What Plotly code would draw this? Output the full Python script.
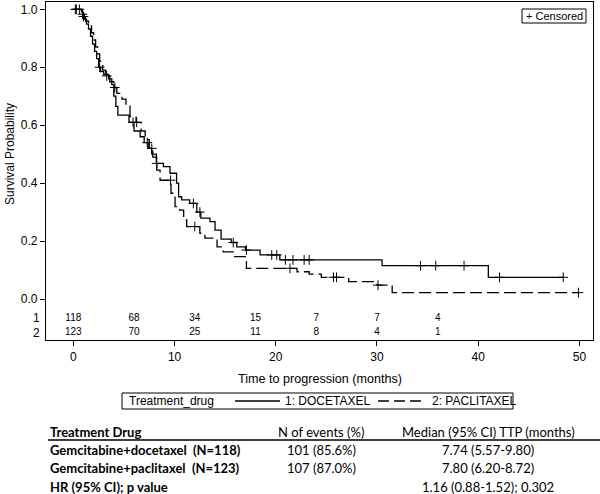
import numpy as np
import plotly.graph_objects as go

# ---------------- data ----------------
# Docetaxel (solid) Kaplan-Meier step function: event times and survival after each step
doc_t = [0, 0.9, 1.1, 1.3, 1.5, 1.7, 1.9, 2.1, 2.3, 2.5, 2.7, 3.0, 3.5, 3.8, 4.0, 4.2, 4.4,
         5.5, 6.0, 6.6, 7.0, 7.4, 7.75, 8.2, 8.9, 9.55, 10.2, 10.4, 10.7, 11.5, 12.2, 12.6,
         13.5, 14.0, 14.6, 15.6, 16.15, 17.0, 18.45, 20.4, 30.5, 41.0]
doc_s = [1.0, 0.983, 0.966, 0.949, 0.932, 0.907, 0.88, 0.855, 0.83, 0.80, 0.785, 0.775, 0.76,
         0.74, 0.70, 0.665, 0.635, 0.61, 0.58, 0.56, 0.54, 0.52, 0.50, 0.468, 0.457, 0.434,
         0.40, 0.353, 0.342, 0.33, 0.30, 0.279, 0.267, 0.238, 0.207, 0.195, 0.18, 0.169,
         0.152, 0.135, 0.115, 0.075]
doc_cens = [0.3, 0.9, 2.6, 5.9, 7.3, 8.24, 11.86, 12.5, 15.8, 17.1, 19.6, 20.1, 20.95, 21.7,
            22.8, 23.3, 34.3, 35.8, 38.6, 42.1, 48.4]
doc_end = 48.4

# Paclitaxel (dashed)
pac_t = [0, 0.8, 1.0, 1.2, 1.5, 1.8, 2.0, 2.2, 2.4, 2.6, 2.9, 3.2, 3.6, 4.0, 4.3, 4.8, 5.2,
         5.6, 6.2, 6.7, 7.1, 7.5, 7.85, 8.24, 8.57, 9.65, 10.05, 10.5, 10.9, 11.2, 12.5, 13.0,
         14.2, 14.8, 15.8, 17.1, 22.1, 23.3, 24.5, 27.2, 30.0, 31.5]
pac_s = [1.0, 0.992, 0.975, 0.959, 0.943, 0.919, 0.894, 0.87, 0.846, 0.82, 0.79, 0.77, 0.75,
         0.73, 0.71, 0.69, 0.67, 0.63, 0.61, 0.58, 0.55, 0.52, 0.49, 0.445, 0.41, 0.365,
         0.319, 0.307, 0.273, 0.25, 0.227, 0.21, 0.18, 0.163, 0.146, 0.106, 0.094, 0.086,
         0.075, 0.06, 0.048, 0.022]
pac_cens = [0.2, 0.6, 1.0, 3.3, 4.1, 6.26, 7.75, 9.6, 12.0, 21.4, 25.7, 26.0, 30.1, 49.9]
pac_end = 49.9

# Numbers at risk
risk_times = [0, 6, 12, 18, 24, 30, 36]
risk_doc = [118, 68, 34, 15, 7, 7, 4]
risk_pac = [123, 70, 25, 11, 8, 4, 1]

# Axis ticks
x_ticks = [0, 10, 20, 30, 40, 50]
y_ticks = [0.0, 0.2, 0.4, 0.6, 0.8, 1.0]

# Summary table
table_header = ["Treatment Drug", "N of events (%)", "Median (95% CI) TTP (months)"]
table_rows = [
    ["Gemcitabine+docetaxel\u00a0\u00a0(N=118)", "101 (85.6%)", "7.74 (5.57-9.80)"],
    ["Gemcitabine+paclitaxel\u00a0\u00a0(N=123)", "107 (87.0%)", "7.80 (6.20-8.72)"],
    ["HR (95% CI); p value", "", "1.16 (0.88-1.52); 0.302"],
]

# ---------------- figure ----------------
W, H = 600, 494
FONT = "Liberation Sans, Arial, sans-serif"
TFONT = "Lato, Open Sans, sans-serif"


def px(x):
    return x / W


def py(y):
    return 1 - y / H


def step_xy(t, s, end):
    return list(t) + [end], list(s) + [s[-1]]


def cens_y(t, s, c):
    idx = np.searchsorted(np.array(t), np.array(c), side="right") - 1
    return [s[i] for i in idx]


fig = go.Figure()

for t, s, cens, end, dash in [(doc_t, doc_s, doc_cens, doc_end, "solid"),
                              (pac_t, pac_s, pac_cens, pac_end, "12px,5px")]:
    xs, ys = step_xy(t, s, end)
    fig.add_trace(go.Scatter(x=xs, y=ys, mode="lines", line=dict(shape="hv", color="black",
                                                                  width=1.3, dash=dash),
                             showlegend=False, hoverinfo="skip"))
    fig.add_trace(go.Scatter(x=cens, y=cens_y(t, s, cens), mode="markers",
                             marker=dict(symbol="cross-thin", size=7, color="black",
                                         line=dict(color="black", width=1)),
                             showlegend=False, hoverinfo="skip"))

# numbers at risk (positioned in two rows below the curves)
for vals, yrow in [(risk_doc, -0.0666), (risk_pac, -0.1163)]:
    fig.add_trace(go.Scatter(x=risk_times, y=[yrow] * len(risk_times), mode="text",
                             text=[str(v) for v in vals],
                             textfont=dict(family=FONT, size=10, color="black"),
                             cliponaxis=False, showlegend=False, hoverinfo="skip"))

fig.update_layout(
    width=W, height=H,
    margin=dict(l=0, r=0, t=0, b=0),
    paper_bgcolor="white", plot_bgcolor="white",
    font=dict(family=FONT, color="black", size=12),
    xaxis=dict(domain=[px(46), px(593)], range=[-2.70, 51.34], tickvals=x_ticks,
               ticks="outside", ticklen=5, tickwidth=1, tickcolor="black",
               showline=True, linecolor="black", linewidth=1.2, mirror=True,
               showgrid=False, zeroline=False,
               tickfont=dict(family=FONT, size=12, color="black")),
    yaxis=dict(domain=[py(340), py(2)], range=[-0.1415, 1.0252], tickvals=y_ticks,
               ticktext=[f"{v:.1f}" for v in y_ticks],
               ticks="outside", ticklen=5, tickwidth=1, tickcolor="black",
               showline=True, linecolor="black", linewidth=1.2, mirror=True,
               showgrid=False, zeroline=False,
               tickfont=dict(family=FONT, size=12, color="black")),
)

ann = []


def add_text(text, x, y, size=12, xanchor="center", family=FONT, angle=0):
    ann.append(dict(text=text, x=px(x), y=py(y), xref="paper", yref="paper",
                    xanchor=xanchor, yanchor="middle", showarrow=False, textangle=angle,
                    font=dict(family=family, size=size, color="black")))


# axis titles
add_text("Survival Probability", 10, 154, size=12, angle=-90)
add_text("Time to progression (months)", 319.5, 379, size=12.6)

# at-risk row labels
add_text("1", 42, 318, size=12, xanchor="right")
add_text("2", 42, 333, size=12, xanchor="right")

# censored box
add_text("+ Censored", 554, 16, size=11)

# legend
add_text("Treatment_drug", 127, 401, size=12, xanchor="left")
add_text("1: DOCETAXEL", 283, 401, size=12, xanchor="left")
add_text("2: PACLITAXEL", 430, 401, size=12, xanchor="left")

# table
add_text("<b>" + table_header[0] + "</b>", 48, 432, size=13, xanchor="left", family=TFONT)
add_text(table_header[1], 321, 432, size=13, family=TFONT)
add_text(table_header[2], 489, 432, size=13, family=TFONT)
for i, row in enumerate(table_rows):
    yy = [450, 468, 487][i]
    add_text("<b>" + row[0] + "</b>", 48, yy, size=13, xanchor="left", family=TFONT)
    if row[1]:
        add_text(row[1], 321, yy, size=13, family=TFONT)
    add_text(row[2], 488, yy, size=13, family=TFONT)

fig.update_layout(annotations=ann)

shapes = [
    # censored legend box
    dict(type="rect", xref="paper", yref="paper", x0=px(522), x1=px(586), y0=py(23), y1=py(9),
         line=dict(color="black", width=1)),
    # treatment legend box
    dict(type="rect", xref="paper", yref="paper", x0=px(122), x1=px(513), y0=py(409), y1=py(393),
         line=dict(color="black", width=1)),
    dict(type="line", xref="paper", yref="paper", x0=px(235), x1=px(280), y0=py(401), y1=py(401),
         line=dict(color="black", width=1.3)),
    dict(type="line", xref="paper", yref="paper", x0=px(378), x1=px(422), y0=py(401), y1=py(401),
         line=dict(color="black", width=1.3, dash="11px,5px")),
    # table header underline
    dict(type="line", xref="paper", yref="paper", x0=px(48), x1=px(600), y0=py(440), y1=py(440),
         line=dict(color="black", width=1.5)),
]
fig.update_layout(shapes=shapes)

fig.write_html("out.html",
               config={"displayModeBar": False},
               post_script="document.body.style.margin='0';document.body.style.padding='0';")
